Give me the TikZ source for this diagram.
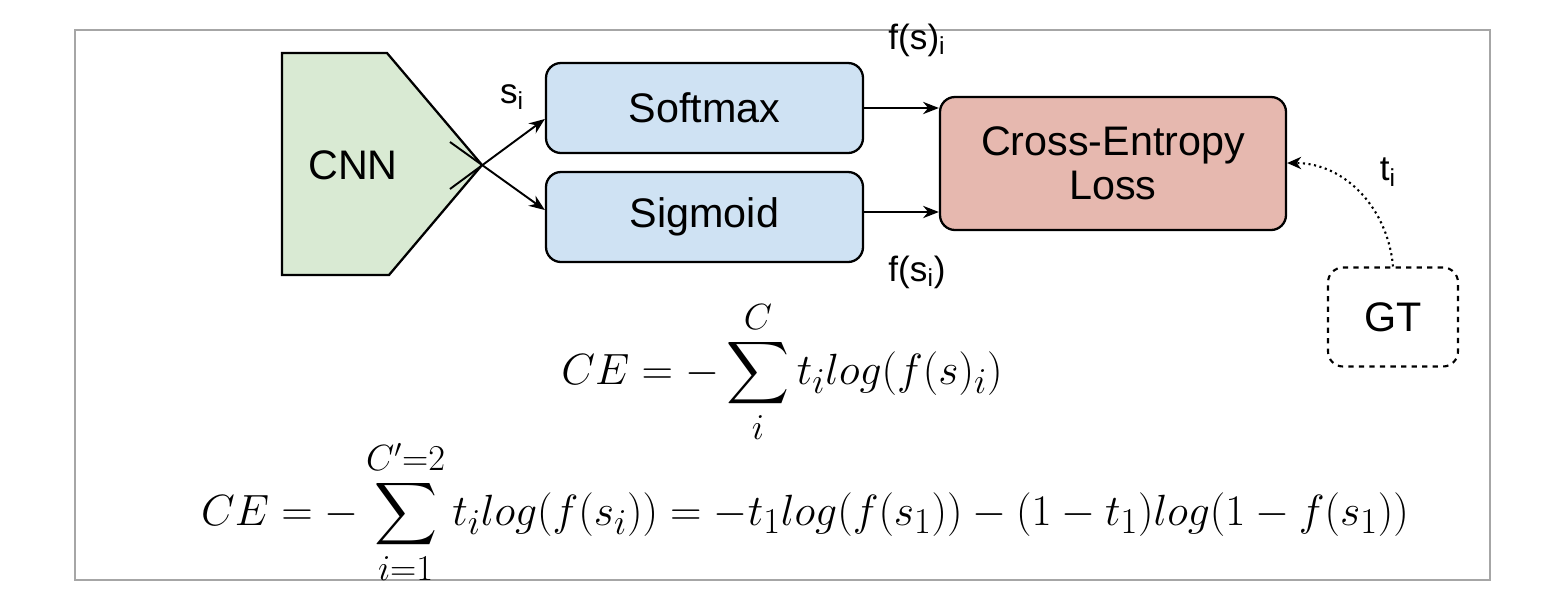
\documentclass[tikz,border=0pt]{standalone}
\usepackage{fontspec}
\setmainfont{Liberation Sans}
\usepackage{amsmath}
\usetikzlibrary{arrows.meta}
\definecolor{cnn}{HTML}{D9EAD3}
\definecolor{blu}{HTML}{CFE2F3}
\definecolor{sal}{HTML}{E6B8AF}
\begin{document}
\begin{tikzpicture}[x=0.02cm,y=-0.02cm,
  box/.style={draw,line width=1.3pt,rounded corners=0.3cm,font=\fontsize{23.5}{27}\selectfont,align=center},
  arr/.style={line width=1.1pt,-{Stealth[length=9pt,width=7pt]}},
  lab/.style={font=\fontsize{20}{23}\selectfont},
  eq/.style={font=\fontsize{30}{35}\selectfont}]
\useasboundingbox (0,0) rectangle (1553,599);
\draw[gray!70,line width=1pt] (75,30) rectangle (1490,580);
\draw[line width=1.3pt,fill=cnn] (282,53) -- (387,53) -- (482,165) -- (389,275) -- (282,275) -- cycle;
\node[font=\fontsize{23.5}{27}\selectfont] (cnn) at (353,165) {CNN};
\node[box,fill=blu,minimum width=317*0.02cm,minimum height=90*0.02cm] (soft) at (704.5,108) {Softmax};
\node[box,fill=blu,minimum width=317*0.02cm,minimum height=90*0.02cm] (sig) at (704.5,217) {Sigmoid};
\node[box,fill=sal,minimum width=346*0.02cm,minimum height=133*0.02cm] (ce) at (1113,163.5) {Cross-Entropy\\[-2pt]Loss};
\node[box,dashed,line width=1.2pt,minimum width=130*0.02cm,minimum height=99*0.02cm] (gt) at (1393,317) {GT};
\coordinate (a1) at (450,189);
\coordinate (a2) at (450,142);
\draw[arr] (a1) -- (soft.west|-0,119);
\draw[arr] (a2) -- (sig.west|-0,210);
\draw[arr] (soft.east) -- (ce.west|-soft.east);
\draw[arr] (sig.east|-0,212) -- (ce.west|-0,212);
\draw[line width=1.2pt,dotted,-{Stealth[length=8pt,width=7pt]}] (gt.north) to[out=95,in=0] (ce.east|-0,163);
\node[lab] (si) at (512,97) {s\textsubscript{i}};
\node[lab] (fsi) at (917,40) {f(s)\textsubscript{i}};
\node[lab] (fsi2) at (917,272) {f(s\textsubscript{i})};
\node[lab] (ti) at (1388,172) {t\textsubscript{i}};
\node[eq,font=\fontsize{32}{37}\selectfont] (e1) at (782,372) {$\displaystyle CE=-\sum_{i}^{C} t_i log(f(s)_i)$};
\node[eq] (e2) at (805,512) {$\displaystyle CE=-\sum_{i=1}^{C'=2} t_i log(f(s_i))=-t_1log(f(s_1))-(1-t_1)log(1-f(s_1))$};
\end{tikzpicture}
\end{document}
